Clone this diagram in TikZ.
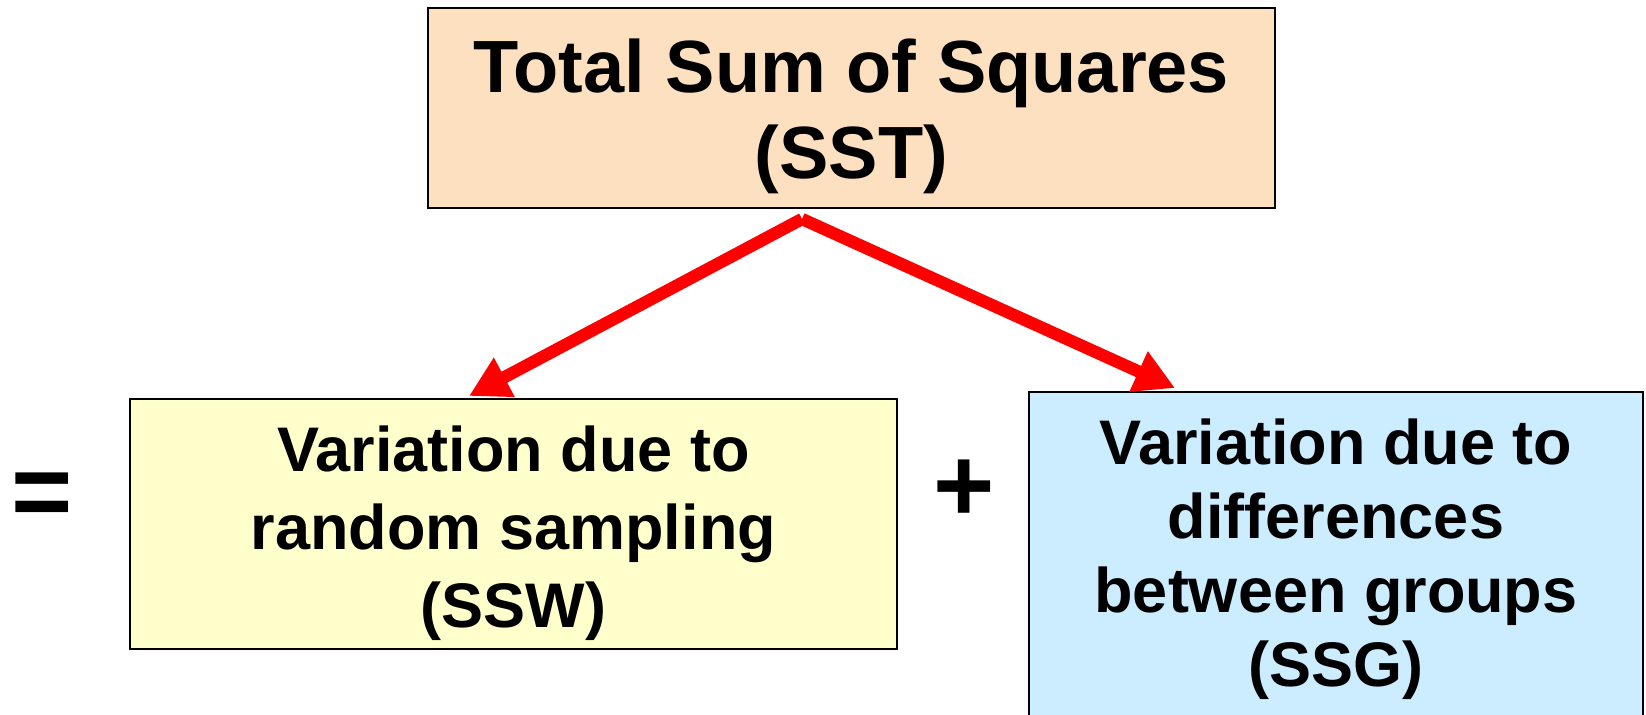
\documentclass[tikz,border=0pt]{standalone}
\usepackage{fontspec}
\setmainfont{Liberation Sans}
\usetikzlibrary{arrows.meta,positioning,calc}

\definecolor{peach}{RGB}{252,224,192}
\definecolor{paleyellow}{RGB}{255,255,204}
\definecolor{paleblue}{RGB}{204,236,255}

\begin{document}
\begin{tikzpicture}[x=0.3pt, y=-0.3pt,
    box/.style={draw=black, line width=0.6pt, inner sep=0pt},
    boxtext/.style={align=center, inner sep=0pt, font=\bfseries},
    split/.style={draw=red, line width=3.7pt, -{Triangle[length=12pt, width=12.5pt]}}]
            \useasboundingbox (0,0) rectangle (1646,715);
            \clip (0,0) rectangle (1646,715);

            % Total sum of squares (top)
            \node[box, fill=peach, minimum width=847*0.3pt, minimum height=200*0.3pt] (sst) at (851.5,108) {};
            \node[boxtext, font=\fontsize{22.2}{25.8}\selectfont\bfseries] (ssttext) at (851.5,116)
                {Total Sum of Squares\\(SST)};

            % Within groups (left)
            \node[box, fill=paleyellow, minimum width=767*0.3pt, minimum height=250*0.3pt] (ssw) at (513.5,524) {};
            \node[boxtext, font=\fontsize{18.9}{23.4}\selectfont\bfseries] (sswtext) at (513.5,533.5)
                {Variation due to\\random sampling\\(SSW)};

            % Between groups (right)
            \node[box, fill=paleblue, minimum width=614*0.3pt, minimum height=360*0.3pt] (ssg) at (1336,572) {};
            \node[boxtext, font=\fontsize{18.9}{22.2}\selectfont\bfseries] (ssgtext) at (1336,559.5)
                {Variation due to\\differences\\between groups\\(SSG)};

            % Signs
            \node[boxtext, font=\fontsize{31.5}{31.5}\selectfont\bfseries] (eq) at (42,500) {=};
            \node[boxtext, font=\fontsize{31.5}{31.5}\selectfont\bfseries] (plus) at (964,491) {+};

            % Arrows from SST
            \draw[split] ($(sst.south)+(-49.5,10)$) -- ($(ssw.north west)+(340,-2)$);
            \draw[split] ($(sst.south)+(-49.5,10)$) -- ($(ssg.north west)+(147,-3)$);

        \end{tikzpicture}
\end{document}
